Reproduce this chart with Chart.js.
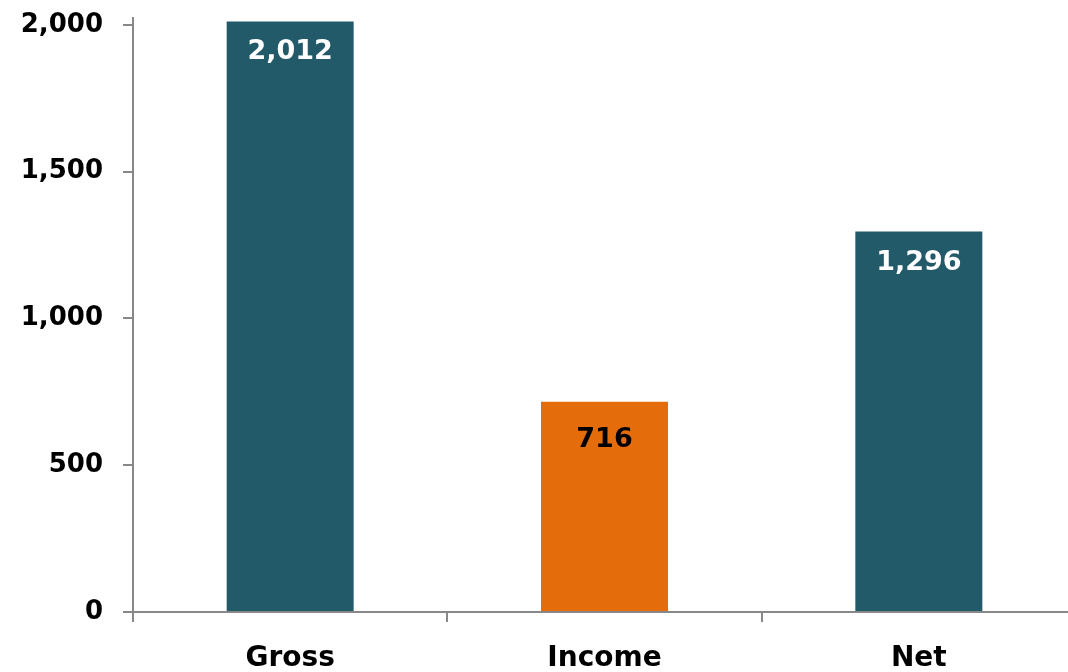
<!DOCTYPE html>
<html>
<head>
<meta charset="utf-8">
<script src="https://cdn.jsdelivr.net/npm/chart.js@4/dist/chart.umd.min.js"></script>
<style>
  html, body { margin: 0; padding: 0; background: #fff; overflow: hidden; }
  #wrap { position: relative; width: 1076px; height: 690px; margin-top: -18px; }
</style>
</head>
<body>
<div id="wrap"><canvas id="c"></canvas></div>
<script>
const categories = ['Gross', 'Income', 'Net'];
const values = [2012, 716, 1296];
const barColors = ['#235a69', '#e46c0a', '#235a69'];
const labelColors = ['#ffffff', '#000000', '#ffffff'];
const yTicks = [0, 500, 1000, 1500, 2000];

const FONT = 'DejaVu Sans';

const valueLabels = {
  id: 'valueLabels',
  afterDatasetsDraw(chart) {
    const ctx = chart.ctx;
    const meta = chart.getDatasetMeta(0);
    ctx.save();
    ctx.font = 'bold 27px "' + FONT + '"';
    ctx.textAlign = 'center';
    ctx.textBaseline = 'middle';
    meta.data.forEach((bar, i) => {
      ctx.fillStyle = labelColors[i];
      ctx.fillText(values[i].toLocaleString('en-US'), bar.x, bar.y + (i === 1 ? 38 : 31));
    });
    ctx.restore();
  }
};

new Chart(document.getElementById('c'), {
  type: 'bar',
  data: {
    labels: categories,
    datasets: [{
      data: values,
      backgroundColor: barColors,
      borderWidth: 0,
      categoryPercentage: 1.0,
      barPercentage: 0.404
    }]
  },
  options: {
    responsive: true,
    maintainAspectRatio: false,
    animation: false,
    layout: { padding: { top: 0, right: 0, left: 0, bottom: 0 } },
    plugins: {
      legend: { display: false },
      tooltip: { enabled: false },
      title: { display: false }
    },
    scales: {
      x: {
        grid: {
          offset: true,
          drawOnChartArea: false,
          drawTicks: true,
          tickLength: 10,
          color: '#888888',
          lineWidth: 2
        },
        border: { color: '#888888', width: 2 },
        ticks: {
          color: '#000000',
          padding: 20,
          font: { family: FONT, size: 28, weight: 'bold' }
        },
        afterFit(scale) { scale.height = 60; }
      },
      y: {
        min: 0,
        max: 2025,
        grid: {
          drawOnChartArea: false,
          drawTicks: true,
          tickLength: 10,
          color: '#888888',
          lineWidth: 2
        },
        border: { color: '#888888', width: 2 },
        afterBuildTicks(scale) {
          scale.ticks = yTicks.map(v => ({ value: v }));
        },
        ticks: {
          color: '#000000',
          padding: 20,
          font: { family: FONT, size: 26, weight: 'bold' },
          callback: v => Number(v).toLocaleString('en-US')
        },
        afterFit(scale) { scale.width = 133; }
      }
    }
  },
  plugins: [valueLabels]
});
</script>
</body>
</html>
